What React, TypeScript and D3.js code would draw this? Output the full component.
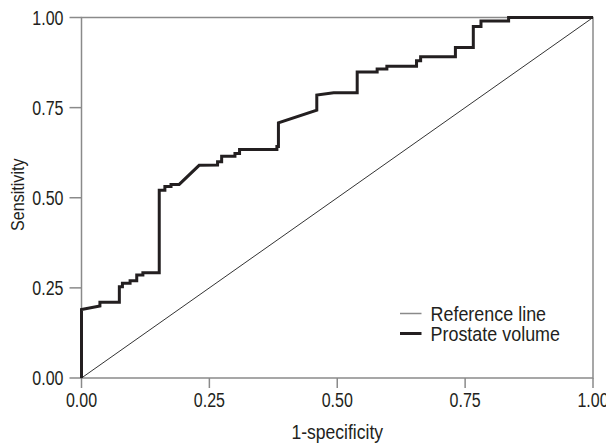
import React from "react";
import * as d3 from "d3";

const tickValues = [0, 0.25, 0.5, 0.75, 1];
const refX = [0, 1];
const refY = [0, 1];
const fpr = [
  0, 0, 0.036, 0.036, 0.074, 0.074, 0.08, 0.08, 0.095, 0.095, 0.108, 0.108, 0.12, 0.12,
  0.152, 0.152, 0.163, 0.163, 0.175, 0.175, 0.191, 0.23, 0.266, 0.266, 0.274, 0.274,
  0.3, 0.3, 0.309, 0.309, 0.382, 0.382, 0.385, 0.385, 0.46, 0.46, 0.493, 0.539, 0.539,
  0.578, 0.578, 0.597, 0.597, 0.655, 0.655, 0.663, 0.663, 0.731, 0.731, 0.766, 0.766,
  0.781, 0.781, 0.835, 0.835, 1,
];
const tpr = [
  0, 0.19, 0.2, 0.21, 0.21, 0.253, 0.253, 0.263, 0.263, 0.27, 0.27, 0.286, 0.286, 0.292,
  0.292, 0.521, 0.521, 0.531, 0.531, 0.537, 0.537, 0.59, 0.591, 0.6, 0.6, 0.615,
  0.615, 0.623, 0.623, 0.634, 0.634, 0.642, 0.642, 0.708, 0.743, 0.785, 0.791, 0.791, 0.849,
  0.849, 0.857, 0.857, 0.865, 0.865, 0.88, 0.88, 0.891, 0.891, 0.917, 0.917, 0.975,
  0.975, 0.99, 0.99, 1, 1,
];
const legendLabels = ["Reference line", "Prostate volume"];
const xTitle = "1-specificity";
const yTitle = "Sensitivity";

const W = 606;
const H = 445;
const FONT = "'Liberation Sans', Arial, Helvetica, sans-serif";

export default function App() {
  const x = d3.scaleLinear().domain([0, 1]).range([81.5, 593]);
  const y = d3.scaleLinear().domain([0, 1]).range([378, 17.5]);
  const fmt = d3.format(".2f");
  const line = d3
    .line<number>()
    .x((_, i) => x(fpr[i]))
    .y((_, i) => y(tpr[i]));
  const refLine = d3
    .line<number>()
    .x((_, i) => x(refX[i]))
    .y((_, i) => y(refY[i]));
  const axisColor = "#8a8a8a";
  const textColor = "#231f20";
  const sx = 0.8;
  return (
    <svg
      width={W}
      height={H}
      style={{ position: "absolute", left: 0, top: 0, background: "#fff" }}
      fontFamily={FONT}
    >
      <rect x={0} y={0} width={W} height={H} fill="#fff" />
      {/* frame */}
      <rect
        x={x(0)}
        y={y(1)}
        width={x(1) - x(0)}
        height={y(0) - y(1)}
        fill="none"
        stroke={axisColor}
        strokeWidth={1.5}
      />
      {/* y ticks */}
      {tickValues.map((v) => (
        <g key={"y" + v}>
          <line x1={x(0) - 12} x2={x(0)} y1={y(v)} y2={y(v)} stroke={axisColor} strokeWidth={1.5} />
          <text
            transform={`translate(${x(0) - 18},${y(v)}) scale(${sx},1)`}
            dy="0.36em"
            textAnchor="end"
            fontSize={20}
            fill={textColor}
          >
            {fmt(v)}
          </text>
        </g>
      ))}
      {/* x ticks */}
      {tickValues.map((v) => (
        <g key={"x" + v}>
          <line x1={x(v)} x2={x(v)} y1={y(0)} y2={y(0) + 10} stroke={axisColor} strokeWidth={1.5} />
          <text
            transform={`translate(${x(v)},${y(0) + 29}) scale(${sx},1)`}
            textAnchor="middle"
            fontSize={20}
            fill={textColor}
          >
            {fmt(v)}
          </text>
        </g>
      ))}
      <text
        transform={`translate(${x(0.5)},438.5) scale(0.9,1)`}
        textAnchor="middle"
        fontSize={19.5}
        fill={textColor}
      >
        {xTitle}
      </text>
      <text
        transform={`translate(24, ${y(0.5) - 3}) rotate(-90) scale(0.85,1)`}
        textAnchor="middle"
        fontSize={19}
        fill={textColor}
      >
        {yTitle}
      </text>
      {/* reference diagonal */}
      <path d={refLine(refX) || ""} fill="none" stroke="#333" strokeWidth={1} />
      {/* ROC curve */}
      <path
        d={line(fpr) || ""}
        fill="none"
        stroke="#231f20"
        strokeWidth={3}
        strokeLinejoin="miter"
      />
      {/* legend */}
      <line x1={400} x2={421.5} y1={313.5} y2={313.5} stroke={axisColor} strokeWidth={1.5} />
      <line x1={400} x2={421.5} y1={333.5} y2={333.5} stroke="#231f20" strokeWidth={3} />
      <text
        transform={`translate(430.5,313.5) scale(0.92,1)`}
        dy="0.36em"
        fontSize={19.5}
        fill={textColor}
      >
        {legendLabels[0]}
      </text>
      <text
        transform={`translate(430.5,333.5) scale(0.92,1)`}
        dy="0.36em"
        fontSize={19.5}
        fill={textColor}
      >
        {legendLabels[1]}
      </text>
    </svg>
  );
}
